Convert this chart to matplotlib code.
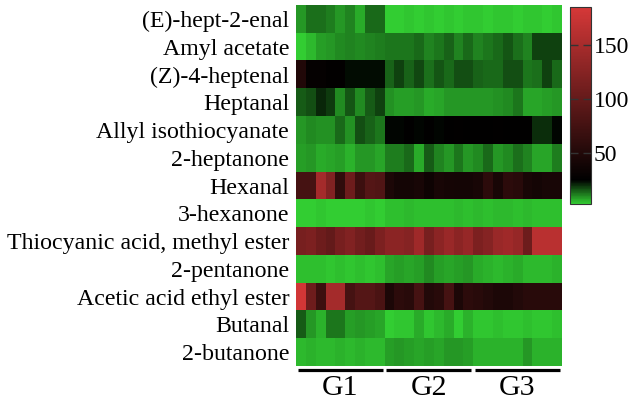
import numpy as np
import matplotlib
matplotlib.use('Agg')
import matplotlib.pyplot as plt
from matplotlib.colors import LinearSegmentedColormap

# nama senyawa (baris) dan kelompok (kolom)
senyawa = ['(E)-hept-2-enal', 'Amyl acetate', '(Z)-4-heptenal', 'Heptanal',
           'Allyl isothiocyanate', '2-heptanone', 'Hexanal', '3-hexanone',
           'Thiocyanic acid, methyl ester', '2-pentanone', 'Acetic acid ethyl ester',
           'Butanal', '2-butanone']
kelompok = ['G1', 'G2', 'G3']
n_per_kelompok = 9

# intensitas tiap sampel (9 sampel per kelompok)
hept2enal = [9, 13, 13, 12, 9, 11, 7, 14, 14,
             3.5, 3.5, 4, 3.5, 4, 3.5, 4, 3.5, 4,
             4, 3.5, 4, 4, 3.5, 4, 4, 3.5, 4]
amyl_acetate = [3.5, 5.4, 8.4, 9.3, 10.8, 11.3, 10.8, 11.3, 11.8,
                12.8, 12.8, 12.8, 13.7, 11.3, 12.8, 14.7, 11.3, 13.7,
                11.3, 12.8, 13.7, 16.2, 13, 11.3, 18, 18, 18]
z4_heptenal = [50, 30, 30, 27, 27, 24, 24, 24, 24,
               15, 18.6, 15, 17.6, 13, 16, 14, 17, 16.7,
               15, 14, 14.2, 16.7, 16.7, 12.3, 13, 18.6, 14.2]
heptanal = [15.7, 17, 21, 19, 10.8, 16, 10.8, 15.7, 18,
            9.8, 8.4, 8.4, 8.9, 7, 7.9, 8.9, 8.9, 9.3,
            8.9, 9.3, 9.8, 10.3, 12.3, 7.4, 7.4, 8.4, 8.9]
allyl_itc = [9.3, 10.8, 9.8, 9.8, 13.7, 9.8, 17, 14.7, 12.8,
             25, 25, 26, 25, 26, 25, 26, 27, 26,
             26, 26, 27, 26, 26, 26, 20.5, 20.5, 25]
heptanone2 = [8.4, 9.3, 7, 7.9, 8.4, 6.4, 9.3, 9.3, 7.9,
              11.8, 11.8, 14.2, 7, 15.2, 11.3, 9.3, 12.3, 9.3,
              10.3, 14.2, 9.3, 10.8, 13.2, 11.3, 7.9, 7.9, 11.8]
hexanal = [77, 77, 148, 122, 62, 107, 70, 88, 85,
           47, 40, 40, 44, 36, 44, 41, 40, 40,
           44, 58, 44, 58, 55, 44, 40, 44, 44]
hexanone3 = [3.5, 3.5, 4, 3.5, 3.5, 3.5, 3.5, 4, 3.5,
             5, 5, 5.4, 5, 4.5, 5, 5, 5.4, 5,
             5.4, 5, 5.4, 5.4, 5, 5.4, 4.5, 4.5, 5]
thiocyanic = [114, 118, 107, 99, 114, 122, 111, 103, 118,
              129, 129, 125, 144, 114, 129, 140, 129, 137,
              118, 125, 140, 144, 137, 107, 163, 163, 163]
pentanone2 = [5, 4.5, 5, 4, 4.5, 4, 5, 4, 4.5,
              7.4, 8.4, 7.4, 8.4, 10.3, 8.4, 7.4, 8.4, 9.3,
              7, 6.4, 5.4, 6.4, 7, 5.4, 5.4, 5.4, 6.4]
ethyl_acetate = [181, 107, 70, 148, 148, 77, 88, 88, 81,
                 47, 58, 55, 77, 51, 55, 77, 47, 58,
                 55, 51, 47, 47, 51, 55, 55, 55, 55]
butanal = [15.2, 8.9, 6, 12.8, 12.8, 8.4, 8.9, 8.4, 7.9,
           3.5, 4, 4, 7, 4, 5.4, 7, 3.5, 6.4,
           4, 4, 5, 4, 4, 5, 4, 4, 4.5]
butanone2 = [5.4, 6.4, 5.4, 5.4, 6.4, 5.4, 6.4, 5.4, 5.4,
             8.4, 9.3, 8.4, 7.9, 8.4, 7.9, 9.3, 9.3, 8.4,
             6.4, 6.4, 6.4, 6.4, 6.4, 9.3, 6.4, 6.4, 6.4]

data = np.array([hept2enal, amyl_acetate, z4_heptenal, heptanal, allyl_itc,
                 heptanone2, hexanal, hexanone3, thiocyanic, pentanone2,
                 ethyl_acetate, butanal, butanone2])
n_baris, n_kolom = data.shape

vmin, vmax = 3, 185
hitam = (25 - vmin) / (vmax - vmin)
cmap = LinearSegmentedColormap.from_list(
    'hijau_merah', [(0, '#32CD32'), (hitam, '#000000'), (1, '#D63838')])

plt.rcParams['font.family'] = 'Liberation Serif'

fig = plt.figure(figsize=(6.3, 4.01), dpi=100)
ax = fig.add_axes([0.470, 0.0873, 0.422, 0.9002])
cax = fig.add_axes([0.905, 0.491, 0.033, 0.4915])

im = ax.imshow(data, aspect='auto', cmap=cmap, vmin=vmin, vmax=vmax,
               interpolation='nearest')
ax.set_yticks(np.arange(n_baris))
ax.set_yticklabels(senyawa, fontsize=17.2)
ax.set_xticks([])
ax.tick_params(axis='y', length=0, pad=5)
for s in ax.spines.values():
    s.set_visible(False)

# garis kelompok di bawah heatmap
y_garis = n_baris - 0.5 + 0.13
for i, g in enumerate(kelompok):
    x0 = i * n_per_kelompok - 0.5 + 0.15
    x1 = (i + 1) * n_per_kelompok - 0.5 - 0.2
    ax.plot([x0, x1], [y_garis, y_garis], color='black', lw=2.3,
            clip_on=False, solid_capstyle='butt')
    ax.text((x0 + x1) / 2, n_baris - 0.5 + 1.04, g, ha='center',
            va='baseline', fontsize=21.5)
ax.set_xlim(-0.5, n_kolom - 0.5)
ax.set_ylim(n_baris - 0.5, -0.5)

cb = fig.colorbar(im, cax=cax, ticks=[50, 100, 150])
cb.outline.set_linewidth(0.8)
cb.outline.set_edgecolor('#333333')
cax.tick_params(axis='y', direction='in', length=6, width=1, color='#333333',
                left=True, right=True, labelsize=17, pad=2)

plt.savefig('out.png', dpi=100)
